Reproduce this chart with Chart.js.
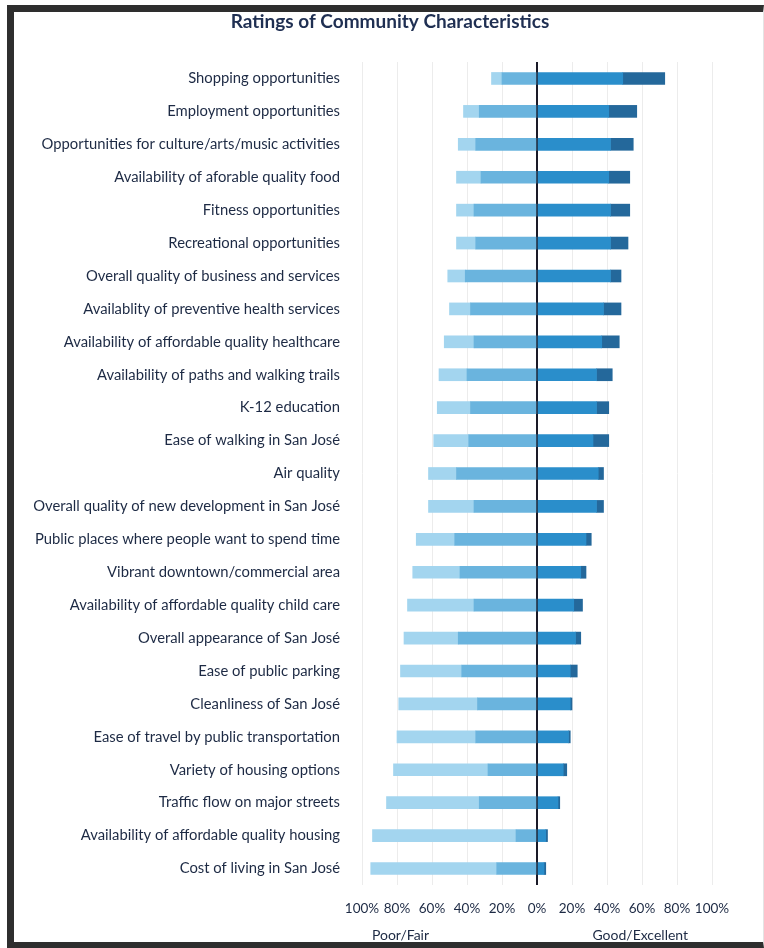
<!DOCTYPE html>
<html>
<head>
<meta charset="utf-8">
<script src="https://cdn.jsdelivr.net/npm/chart.js@4"></script>
<style>
    html, body { margin: 0; padding: 0; background: #fff; overflow: hidden; }
    #wrap { position: relative; width: 764px; height: 948px; overflow: hidden; }
    #ratingsChart { position: absolute; left: 0; top: 0; }
    #frame {
        position: absolute; left: 7px; top: 5px; width: 757px; height: 943px;
        box-sizing: border-box; pointer-events: none;
        border-top: 7px solid #2e2e2e; border-left: 7px solid #2e2e2e;
        border-bottom: 6px solid #2e2e2e; border-right: 1px solid #e4e4e4;
    }
</style>
</head>
<body>
<div id="wrap">
    <canvas id="ratingsChart" width="764" height="948"></canvas>
    <div id="frame"></div>
</div>
<script>
    // Ratings data (percent of respondents), top row first
    const categories = [
        'Shopping opportunities',
        'Employment opportunities',
        'Opportunities for culture/arts/music activities',
        'Availability of aforable quality food',
        'Fitness opportunities',
        'Recreational opportunities',
        'Overall quality of business and services',
        'Availablity of preventive health services',
        'Availability of affordable quality healthcare',
        'Availability of paths and walking trails',
        'K-12 education',
        'Ease of walking in San José',
        'Air quality',
        'Overall quality of new development in San José',
        'Public places where people want to spend time',
        'Vibrant downtown/commercial area',
        'Availability of affordable quality child care',
        'Overall appearance of San José',
        'Ease of public parking',
        'Cleanliness of San José',
        'Ease of travel by public transportation',
        'Variety of housing options',
        'Traffic flow on major streets',
        'Availability of affordable quality housing',
        'Cost of living in San José'
    ];
    const poor      = [6, 9, 10, 14, 10, 11, 10, 12, 17, 16, 19, 20, 16, 26, 22, 27, 38, 31, 35, 45, 45, 54, 53, 82, 72];
    const fair      = [20, 33, 35, 32, 36, 35, 41, 38, 36, 40, 38, 39, 46, 36, 47, 44, 36, 45, 43, 34, 35, 28, 33, 12, 23];
    const good      = [49, 41, 42, 41, 42, 42, 42, 38, 37, 34, 34, 32, 35, 34, 28, 25, 21, 22, 19, 19, 18, 15, 12, 5, 4];
    const excellent = [24, 16, 13, 12, 11, 10, 6, 10, 10, 9, 7, 9, 3, 4, 3, 3, 5, 3, 4, 1, 1, 2, 1, 1, 1];
    const tickValues = [-100, -80, -60, -40, -20, 0, 20, 40, 60, 80, 100];

    const textColor = '#1d2a44';
    const fontFamily = 'Lato, "Open Sans", sans-serif';

    // title, plus Poor/Fair and Good/Excellent captions under the axis
    const extraText = {
        id: 'extraText',
        afterDraw(chart) {
            const x = chart.scales.x;
            const c = chart.ctx;
            c.save();
            c.textAlign = 'center';
            c.textBaseline = 'middle';
            c.fillStyle = '#1f2f52';
            c.font = 'bold 19px ' + fontFamily;
            c.fillText('Ratings of Community Characteristics', 390, 22);
            c.fillStyle = textColor;
            c.font = '14px ' + fontFamily;
            c.fillText('Poor/Fair', x.getPixelForValue(-78), 935);
            c.fillText('Good/Excellent', x.getPixelForValue(59), 935);
            c.restore();
        }
    };

    const ctx = document.getElementById('ratingsChart').getContext('2d');
    new Chart(ctx, {
        type: 'bar',
        data: {
            labels: categories,
            datasets: [
                { label: 'Fair', data: fair.map(v => -v), backgroundColor: '#6ab4de' },
                { label: 'Poor', data: poor.map(v => -v), backgroundColor: '#a3d5ef' },
                { label: 'Good', data: good, backgroundColor: '#2a8ecb' },
                { label: 'Excellent', data: excellent, backgroundColor: '#24689b' }
            ]
        },
        options: {
            indexAxis: 'y',
            responsive: false,
            animation: false,
            layout: { padding: { left: 0, right: 52, top: 62, bottom: 0 } },
            datasets: { bar: { barThickness: 12, borderWidth: 0 } },
            plugins: {
                legend: { display: false },
                tooltip: { enabled: false },
                title: { display: false }
            },
            scales: {
                x: {
                    stacked: true,
                    min: -100,
                    max: 100,
                    afterBuildTicks: (scale) => { scale.ticks = tickValues.map(v => ({ value: v })); },
                    afterFit: (scale) => { scale.height = 63; },
                    grid: {
                        drawTicks: false,
                        color: (c) => c.tick && c.tick.value === 0 ? '#1a1a28' : '#ececec',
                        lineWidth: (c) => c.tick && c.tick.value === 0 ? 2 : 1
                    },
                    border: { display: false },
                    ticks: {
                        padding: 16,
                        maxRotation: 0,
                        minRotation: 0,
                        autoSkip: false,
                        color: textColor,
                        font: { family: fontFamily, size: 13.5 },
                        callback: (v) => Math.abs(v) + '%'
                    }
                },
                y: {
                    stacked: true,
                    afterFit: (scale) => { scale.width = 362; },
                    grid: { display: false },
                    border: { display: false },
                    ticks: {
                        padding: 14,
                        color: textColor,
                        font: { family: fontFamily, size: 14.8 }
                    }
                }
            }
        },
        plugins: [extraText]
    });
</script>
</body>
</html>
